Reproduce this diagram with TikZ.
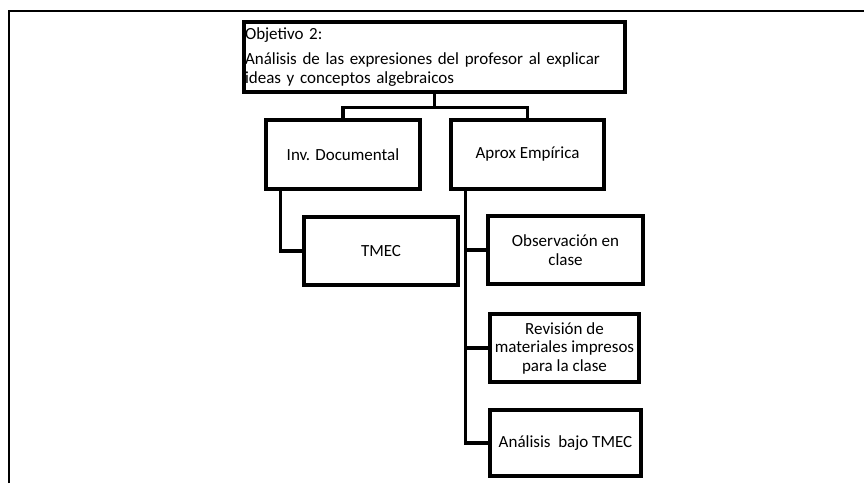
\documentclass[tikz,border=0pt]{standalone}
\usepackage{fontspec}
\setmainfont{Carlito}
\tikzset{
  caja/.style={draw, line width=3.2pt, align=center, inner sep=1pt},
  linea/.style={line width=3.2pt}
}
\begin{document}
\begin{tikzpicture}[x=1pt,y=-1pt,font=\fontsize{17}{18.5}\selectfont]
\useasboundingbox (0,0) rectangle (864,483);
% marco
\draw[line width=2pt] (9,483) -- (9,11) -- (864,11);
% objetivo
\node[caja, align=left, text width=379pt, minimum height=70pt] (obj) at (434.5,57)
  {Objetivo 2:\\[7pt]An\'alisis de las expresiones del profesor al explicar\\ideas y conceptos algebraicos};
\node[caja, minimum width=154pt, minimum height=69pt] (inv) at (343,154.5) {Inv. Documental};
\node[caja, minimum width=153pt, minimum height=69pt] (aprox) at (527.5,154.5) {Aprox Emp\'irica};
\node[caja, minimum width=154pt, minimum height=68pt] (tmec) at (381,251) {TMEC};
\node[caja, minimum width=155pt, minimum height=68pt] (obs) at (565.5,250) {Observaci\'on en\\clase};
\node[caja, minimum width=149pt, minimum height=68pt] (rev) at (564.5,348) {Revisi\'on de\\materiales impresos\\para la clase};
\node[caja, minimum width=151pt, minimum height=66pt] (ana) at (565.5,443) {An\'alisis\ \ bajo TMEC};
% conectores
\coordinate (cruce) at ([yshift=-14pt]obj.south);
\draw[linea] (obj.south) -- (cruce) -| (inv.north);
\draw[linea] (cruce) -| (aprox.north);
\draw[linea] ([xshift=16pt]inv.south west) |- (tmec.west);
\draw[linea] ([xshift=16pt]aprox.south west) |- (ana.west);
\draw[linea] ([xshift=16pt]aprox.south west) |- (obs.west);
\draw[linea] ([xshift=16pt]aprox.south west) |- (rev.west);
\end{tikzpicture}
\end{document}
